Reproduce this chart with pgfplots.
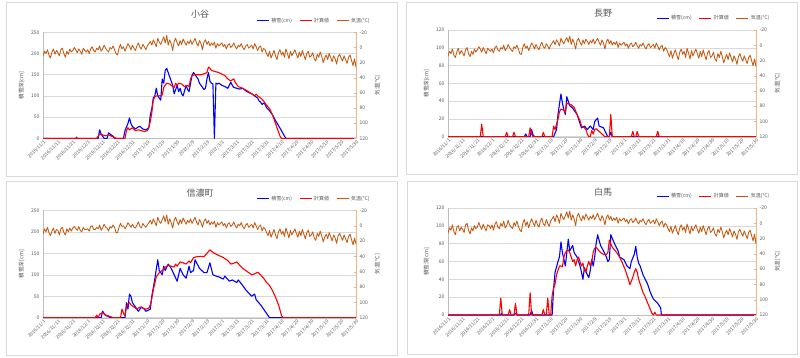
\documentclass[border=0pt]{standalone}
\usepackage{fontspec}
\setmainfont{Noto Sans CJK JP}
\usepackage{pgfplots}
\usepackage{pgfplotstable}
\pgfplotsset{compat=1.18}
\definecolor{snowc}{RGB}{0,0,255}
\definecolor{calcc}{RGB}{255,0,0}
\definecolor{tempc}{RGB}{197,90,17}
\definecolor{tempax}{RGB}{240,180,130}
\definecolor{txt}{RGB}{89,89,89}
\definecolor{gridc}{RGB}{217,217,217}
\definecolor{framec}{RGB}{217,217,217}

\pgfplotstableread[row sep=\\]{T\\12\\5\\8\\3\\10\\14\\6\\2\\9\\4\\7\\11\\3\\1\\8\\13\\5\\9\\2\\6\\4\\0\\3\\7\\2\\5\\9\\1\\4\\6\\3\\8\\2\\-1\\4\\6\\1\\3\\-2\\5\\2\\-3\\1\\4\\6\\0\\2\\-2\\3\\8\\10\\1\\-4\\2\\-1\\5\\0\\-5\\-2\\3\\-3\\1\\4\\-2\\-6\\0\\2\\-4\\-1\\3\\-2\\-5\\-8\\-3\\-10\\-6\\-1\\-12\\-7\\-4\\-9\\-14\\-6\\-16\\-3\\-10\\-5\\4\\-8\\-12\\-6\\-2\\-9\\-4\\-11\\-7\\-3\\-8\\-5\\-10\\-4\\-8\\-12\\-6\\-2\\-9\\-5\\3\\-7\\-10\\-4\\-8\\-2\\-6\\-3\\-7\\1\\-5\\-2\\-4\\-6\\-1\\-4\\2\\-3\\-5\\0\\-2\\-6\\-1\\2\\-3\\-1\\-5\\0\\3\\-2\\-4\\1\\-1\\-3\\2\\-5\\-1\\4\\0\\-2\\6\\1\\3\\8\\12\\5\\14\\9\\4\\11\\16\\7\\3\\10\\6\\13\\2\\8\\15\\5\\11\\7\\3\\9\\14\\6\\12\\4\\10\\16\\8\\5\\13\\11\\7\\15\\18\\9\\13\\6\\12\\20\\14\\10\\16\\8\\13\\19\\11\\15\\22\\12\\9\\14\\18\\11\\16\\21\\13\\10\\17\\24\\15\\26\\}\tempA
\pgfplotstableread[row sep=\\]{T\\14\\8\\11\\5\\13\\16\\9\\4\\12\\7\\10\\14\\6\\3\\11\\15\\8\\12\\5\\9\\6\\2\\5\\9\\3\\7\\11\\4\\6\\8\\5\\10\\3\\1\\6\\8\\3\\5\\0\\7\\4\\-1\\3\\6\\8\\2\\4\\0\\5\\11\\12\\3\\-2\\4\\1\\7\\2\\-3\\0\\5\\-1\\3\\6\\0\\-4\\2\\4\\-2\\1\\5\\0\\-3\\-6\\-1\\-7\\-4\\1\\-9\\-5\\-2\\-7\\-10\\-4\\-12\\-1\\-8\\-3\\5\\-6\\-9\\-4\\0\\-7\\-2\\-8\\-5\\-1\\-6\\-3\\-8\\-2\\-6\\-9\\-4\\0\\-7\\-3\\5\\-5\\-8\\-2\\-6\\0\\-4\\-1\\-5\\3\\-3\\0\\-2\\-4\\1\\-2\\4\\-1\\-3\\2\\0\\-4\\1\\4\\-1\\1\\-3\\2\\5\\0\\-2\\3\\1\\-1\\4\\-3\\1\\6\\2\\0\\8\\3\\5\\10\\15\\7\\17\\11\\6\\13\\19\\9\\5\\12\\8\\16\\4\\10\\18\\7\\14\\9\\5\\11\\17\\8\\15\\6\\13\\19\\10\\7\\16\\14\\9\\18\\21\\11\\16\\8\\15\\23\\17\\12\\19\\10\\16\\22\\14\\18\\25\\15\\11\\17\\21\\14\\19\\24\\16\\13\\20\\27\\18\\28\\}\tempB
\pgfplotstableread[row sep=\\]{T\\11\\4\\8\\2\\9\\13\\7\\3\\10\\5\\6\\12\\4\\2\\9\\12\\4\\8\\3\\7\\3\\1\\4\\6\\1\\6\\8\\2\\5\\5\\4\\7\\1\\0\\5\\5\\2\\4\\-1\\6\\3\\-2\\2\\3\\7\\1\\3\\-1\\2\\9\\9\\2\\-3\\1\\0\\4\\1\\-4\\-1\\2\\-2\\2\\3\\-1\\-5\\1\\3\\-3\\0\\2\\-1\\-4\\-7\\-2\\-9\\-5\\0\\-11\\-6\\-3\\-8\\-13\\-5\\-14\\-2\\-9\\-4\\3\\-7\\-11\\-5\\-1\\-8\\-3\\-10\\-6\\-2\\-7\\-4\\-9\\-3\\-7\\-11\\-5\\-1\\-8\\-4\\2\\-6\\-9\\-3\\-7\\-1\\-5\\-2\\-6\\2\\-4\\-1\\-3\\-5\\0\\-3\\3\\-2\\-4\\1\\-1\\-5\\0\\3\\-2\\0\\-4\\1\\4\\-1\\-3\\2\\0\\-2\\3\\-4\\0\\5\\1\\-1\\7\\2\\4\\9\\13\\6\\15\\10\\5\\12\\17\\8\\4\\11\\7\\14\\3\\9\\16\\6\\12\\8\\4\\10\\15\\7\\13\\5\\11\\17\\9\\6\\14\\12\\8\\16\\19\\10\\14\\7\\13\\21\\15\\11\\17\\9\\14\\20\\12\\16\\23\\13\\10\\15\\19\\12\\17\\22\\14\\11\\18\\25\\16\\24\\}\tempC
\pgfplotstableread[row sep=\\]{T\\13\\6\\9\\2\\11\\15\\5\\3\\10\\5\\8\\12\\2\\0\\9\\14\\6\\10\\3\\7\\5\\-1\\4\\8\\1\\6\\10\\2\\3\\7\\2\\9\\1\\-2\\5\\7\\0\\4\\-3\\6\\3\\-4\\2\\5\\7\\-1\\3\\-3\\4\\9\\11\\0\\-5\\3\\-2\\6\\-1\\-6\\-1\\4\\-4\\2\\5\\-3\\-7\\1\\3\\-5\\0\\4\\-3\\-6\\-9\\-2\\-11\\-7\\0\\-13\\-8\\-5\\-10\\-15\\-7\\-16\\-4\\-11\\-6\\3\\-9\\-13\\-7\\-3\\-10\\-5\\-12\\-8\\-4\\-9\\-6\\-11\\-5\\-9\\-13\\-7\\-3\\-10\\-6\\2\\-8\\-11\\-5\\-9\\-3\\-7\\-4\\-8\\0\\-6\\-3\\-5\\-7\\-2\\-5\\1\\-4\\-6\\-1\\-3\\-7\\-2\\1\\-4\\-2\\-6\\-1\\2\\-3\\-5\\0\\-2\\-4\\1\\-6\\-2\\3\\-1\\-3\\5\\0\\2\\7\\11\\4\\13\\8\\3\\10\\15\\6\\2\\9\\5\\12\\1\\7\\14\\4\\10\\6\\2\\8\\13\\5\\11\\3\\9\\15\\7\\4\\12\\10\\6\\14\\17\\8\\12\\5\\11\\19\\13\\9\\15\\7\\12\\18\\10\\14\\21\\11\\8\\13\\17\\10\\15\\20\\12\\9\\16\\23\\14\\27\\}\tempD

\pgfplotsset{
 panel/.style={scale only axis, xmin=0, xmax=210,
   font=\fontsize{5}{6}\selectfont,
   /pgf/number format/assume math mode=true,
   tick label style={text=txt},
   label style={text=txt, font=\fontsize{5.5}{6}\selectfont}},
 leftax/.style={panel, axis y line*=left, axis x line*=bottom,
   axis line style={draw=gridc!70!gray, -},
   ymajorgrids, grid style={gridc, line width=0.5pt},
   xtick={0,10,...,210},
   xticklabels={2016/11/1,2016/11/11,2016/11/21,2016/12/1,2016/12/11,2016/12/21,2016/12/31,2017/1/10,2017/1/20,2017/1/30,2017/2/9,2017/2/19,2017/3/1,2017/3/11,2017/3/21,2017/3/31,2017/4/10,2017/4/20,2017/4/30,2017/5/10,2017/5/20,2017/5/30},
   xticklabel style={rotate=45, anchor=north east, font=\fontsize{4.8}{5}\selectfont, inner sep=1pt},
   major tick length=0pt,
   ylabel={積雪深[cm]},
   legend style={at={(1.05,1.06)}, anchor=south east, draw=none, fill=none,
     font=\fontsize{5}{6}\selectfont, text=txt, legend columns=3, inner sep=0pt,
     /tikz/every even column/.append style={column sep=5pt}},
   legend image code/.code={\draw[##1] (0pt,0pt) -- (12pt,0pt);}},
 rightax/.style={panel, axis y line*=right, axis x line=none, y dir=reverse,
   ymin=-20, ymax=120, ytick={-20,0,...,120},
   axis line style={draw=tempax, line width=1pt, -},
   ytick style={draw=tempax}, major tick length=2pt,
   ylabel={気温[℃]}},
 snowl/.style={snowc, line width=1.1pt, line join=round},
 calcl/.style={calcc, line width=1.1pt, line join=round},
 templ/.style={tempc, line width=0.85pt, line join=round},
}

\begin{document}
\begin{tikzpicture}[x=1pt,y=1pt]
\fill[white] (0,0) rectangle (800,357);
\draw[framec, line width=0.6pt] (6,181) rectangle (397,355);
\draw[framec, line width=0.6pt] (406,183) rectangle (797,355);
\draw[framec, line width=0.6pt] (6,2) rectangle (397,176);
\draw[framec, line width=0.6pt] (407,3) rectangle (797,176);

% ---------- Panel 1: 小谷 ----------
\begin{axis}[leftax, at={(43pt,218.7pt)}, anchor=south west, width=313pt, height=106pt,
  ymin=0, ymax=250, ytick={0,50,...,250}]
\addplot[snowl] coordinates {(0,0)(37,0)(38,20)(39,10)(40,5)(41,0)(43,0)(44,13)(45,10)(47,5)(48,0)(54,0)(55,18)(57,35)(58,48)(59,35)(60,28)(62,22)(64,27)(65,28)(67,22)(69,20)(71,25)(72,55)(73,70)(74,95)(75,100)(76,118)(77,100)(78,95)(79,90)(80,140)(81,130)(82,160)(83,165)(84,155)(85,145)(86,135)(87,125)(88,105)(89,115)(90,125)(91,110)(92,118)(93,105)(94,100)(95,112)(96,125)(97,115)(98,110)(99,130)(100,148)(101,155)(102,150)(103,145)(104,140)(105,130)(106,125)(107,120)(108,115)(109,118)(110,140)(111,155)(112,135)(113,130)(114,128)(115,0)(116,130)(117,128)(118,130)(120,125)(122,122)(124,118)(125,125)(126,132)(127,125)(128,120)(130,118)(132,116)(134,118)(136,112)(138,108)(140,105)(142,100)(144,95)(145,88)(146,85)(147,80)(148,83)(149,80)(150,72)(152,65)(154,55)(156,42)(158,30)(160,18)(162,5)(163,0)(210,0)};
\addlegendentry{積雪(cm)}
\addplot[calcl] coordinates {(0,0)(22,0)(22.5,3)(23,0)(36,0)(37,5)(38,10)(40,8)(42,6)(44,8)(46,5)(48,2)(49,0)(55,0)(56,18)(57,25)(58,20)(60,25)(62,18)(64,20)(66,18)(68,16)(70,18)(71,25)(72,40)(73,60)(74,90)(75,98)(76,100)(78,100)(80,102)(81,120)(82,125)(83,130)(85,128)(86,125)(88,120)(89,130)(90,125)(91,130)(93,128)(95,122)(97,125)(98,122)(99,140)(100,148)(102,150)(106,150)(108,152)(110,155)(111,168)(112,165)(113,160)(115,158)(118,155)(122,148)(124,140)(126,135)(127,138)(128,140)(129,132)(131,122)(134,118)(137,112)(140,105)(142,100)(143,104)(144,100)(146,95)(148,88)(150,78)(152,70)(154,55)(156,35)(158,15)(159,5)(160,0)(210,0)};
\addlegendentry{計算値}
\addlegendimage{templ, line width=1pt}
\addlegendentry{気温(℃)}
\end{axis}
\begin{axis}[rightax, at={(43pt,218.7pt)}, anchor=south west, width=313pt, height=106pt]
\addplot[templ] table[x expr=\coordindex, y=T] {\tempA};
\end{axis}
\node[text=txt, font=\fontsize{9}{10}\selectfont] at (200,343) {小谷};

% ---------- Panel 2: 長野 ----------
\begin{axis}[leftax, at={(448pt,220.3pt)}, anchor=south west, width=308pt, height=106.7pt,
  ymin=0, ymax=120, ytick={0,20,...,120}]
\addplot[snowl] coordinates {(0,0)(52,0)(53,3)(54,0)(56,0)(57,8)(58,2)(59,0)(72,0)(74,8)(75,25)(77,48)(78,38)(79,30)(80,25)(81,45)(82,40)(83,35)(85,32)(88,25)(90,15)(91,10)(93,12)(95,8)(97,12)(99,8)(100,17)(102,21)(103,12)(106,10)(108,3)(109,0)(110,0)(111,5)(112,0)(210,0)};
\addlegendentry{積雪(cm)}
\addplot[calcl] coordinates {(0,0)(22,0)(23,14)(24,0)(39,0)(40,5)(41,0)(44,0)(45,5)(46,0)(55,0)(56,10)(57,3)(58,0)(64,0)(65,5)(66,0)(71,0)(72,12)(73,8)(75,20)(76,28)(77,31)(79,30)(80,27)(81,38)(82,37)(84,36)(86,33)(88,25)(90,18)(91,12)(93,10)(94,8)(95,3)(96,0)(97,0)(98,7)(99,3)(100,8)(101,9)(103,6)(105,3)(107,0)(110,0)(111,25)(112,0)(125,0)(126,6)(127,0)(128,0)(129,6)(130,0)(142,0)(143,6)(144,0)(210,0)};
\addlegendentry{計算値}
\addlegendimage{templ, line width=1pt}
\addlegendentry{気温(℃)}
\end{axis}
\begin{axis}[rightax, at={(448pt,220.3pt)}, anchor=south west, width=308pt, height=106.7pt]
\addplot[templ] table[x expr=\coordindex, y=T] {\tempB};
\end{axis}
\node[text=txt, font=\fontsize{9}{10}\selectfont] at (603,344) {長野};

% ---------- Panel 3: 信濃町 ----------
\begin{axis}[leftax, at={(43pt,39.3pt)}, anchor=south west, width=313pt, height=107.3pt,
  ymin=0, ymax=250, ytick={0,50,...,250}]
\addplot[snowl] coordinates {(0,0)(39,0)(40,15)(41,10)(42,5)(44,3)(45,0)(55,0)(56,35)(57,20)(58,55)(59,50)(60,35)(62,25)(64,15)(66,25)(68,20)(69,15)(71,18)(72,20)(73,50)(75,90)(77,135)(78,110)(80,100)(81,120)(82,110)(84,125)(86,115)(88,100)(90,85)(92,115)(94,100)(96,92)(98,120)(99,105)(101,110)(102,135)(105,115)(108,105)(110,105)(112,128)(114,100)(116,97)(118,95)(121,90)(122,97)(125,85)(127,88)(130,82)(131,88)(134,75)(136,65)(140,50)(142,55)(143,42)(146,30)(149,15)(151,5)(152,0)(210,0)};
\addlegendentry{積雪(cm)}
\addplot[calcl] coordinates {(0,0)(35,0)(36,6)(37,0)(38,8)(40,12)(42,6)(45,3)(47,0)(52,0)(53,20)(54,10)(55,5)(56,25)(57,32)(58,35)(59,30)(61,25)(63,20)(65,25)(67,22)(69,20)(71,22)(72,30)(73,45)(74,65)(75,80)(76,95)(77,100)(78,105)(80,110)(82,118)(84,122)(86,120)(88,118)(89,125)(90,120)(91,125)(92,130)(94,128)(96,125)(98,132)(99,128)(101,140)(103,142)(106,143)(108,142)(110,150)(112,158)(113,155)(115,150)(118,145)(121,140)(124,133)(126,125)(128,127)(130,130)(132,122)(134,115)(136,110)(138,105)(140,100)(142,102)(144,106)(146,100)(148,92)(150,82)(152,75)(154,63)(156,48)(158,30)(159,18)(160,5)(161,0)(210,0)};
\addlegendentry{計算値}
\addlegendimage{templ, line width=1pt}
\addlegendentry{気温(℃)}
\end{axis}
\begin{axis}[rightax, at={(43pt,39.3pt)}, anchor=south west, width=313pt, height=107.3pt]
\addplot[templ] table[x expr=\coordindex, y=T] {\tempC};
\end{axis}
\node[text=txt, font=\fontsize{9}{10}\selectfont] at (200,164) {信濃町};

% ---------- Panel 4: 白馬 ----------
\begin{axis}[leftax, at={(448pt,42pt)}, anchor=south west, width=308pt, height=107pt,
  ymin=0, ymax=120, ytick={0,20,...,120}]
\addplot[snowl] coordinates {(0,0)(36,0)(36.5,2)(37,0)(45,0)(46,2)(47,0)(56,0)(57,5)(58,0)(71,0)(72,30)(73,48)(75,60)(76,65)(77,82)(78,70)(80,55)(82,85)(83,72)(84,75)(85,78)(86,70)(88,65)(90,55)(91,48)(92,40)(93,53)(95,45)(96,42)(97,50)(98,62)(99,55)(100,65)(101,80)(102,90)(104,78)(106,72)(108,65)(109,60)(110,62)(111,90)(113,82)(115,75)(116,72)(117,65)(120,62)(122,55)(124,52)(125,60)(127,68)(128,77)(129,65)(130,58)(131,55)(133,45)(136,35)(138,25)(140,18)(143,13)(145,8)(145.5,0)(210,0)};
\addlegendentry{積雪(cm)}
\addplot[calcl] coordinates {(0,0)(35,0)(36,19)(37,0)(41,0)(42,6)(43,0)(45,0)(46,13)(47,0)(55,0)(56,25)(57,0)(64,0)(65,6)(66,0)(67,0)(68,19)(69,0)(70,0)(71,22)(72,30)(73,35)(74,45)(75,50)(76,55)(77,55)(78,54)(79,65)(80,70)(81,72)(82,73)(83,70)(84,65)(85,60)(86,62)(87,55)(88,62)(89,65)(90,60)(91,55)(92,58)(93,50)(94,48)(95,55)(96,60)(97,55)(98,60)(99,70)(100,75)(101,76)(102,74)(103,72)(104,70)(106,68)(108,68)(109,70)(110,84)(111,80)(112,76)(113,74)(115,70)(117,65)(119,58)(121,50)(122,45)(123,40)(124,34)(125,38)(126,42)(127,48)(128,52)(129,48)(130,40)(131,35)(132,30)(133,25)(134,22)(135,18)(136,14)(137,10)(138,6)(139,2)(140,0)(141,3)(142,0)(210,0)};
\addlegendentry{計算値}
\addlegendimage{templ, line width=1pt}
\addlegendentry{気温(℃)}
\end{axis}
\begin{axis}[rightax, at={(448pt,42pt)}, anchor=south west, width=308pt, height=107pt]
\addplot[templ] table[x expr=\coordindex, y=T] {\tempD};
\end{axis}
\node[text=txt, font=\fontsize{9}{10}\selectfont] at (603,165) {白馬};
\end{tikzpicture}
\end{document}
